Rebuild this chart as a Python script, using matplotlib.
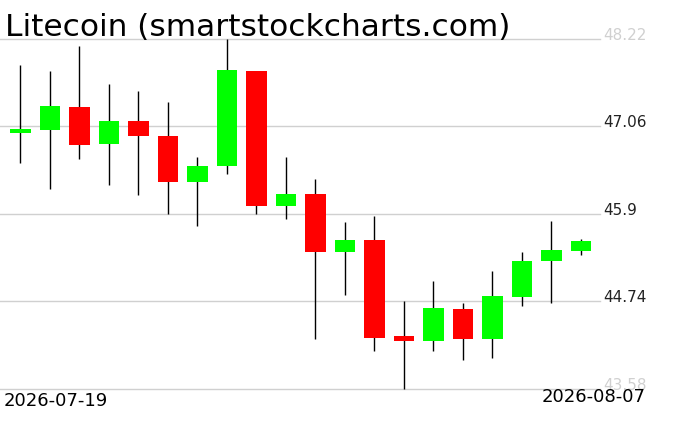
import matplotlib
matplotlib.use("Agg")
import matplotlib.pyplot as plt
import numpy as np

# daily OHLC
dates = ["2026-07-19", "2026-07-20", "2026-07-21", "2026-07-22", "2026-07-23",
         "2026-07-24", "2026-07-25", "2026-07-26", "2026-07-27", "2026-07-28",
         "2026-07-29", "2026-07-30", "2026-07-31", "2026-08-01", "2026-08-02",
         "2026-08-03", "2026-08-04", "2026-08-05", "2026-08-06", "2026-08-07"]
opens = [46.98, 47.02, 47.32, 46.83, 47.13, 46.94, 46.33, 46.53, 47.80, 46.01,
         46.17, 45.40, 45.56, 44.28, 44.21, 44.64, 44.24, 44.80, 45.28, 45.41]
highs = [47.87, 47.80, 48.13, 47.62, 47.53, 47.39, 46.66, 48.22, 47.80, 46.66,
         46.36, 45.80, 45.87, 44.74, 45.01, 44.72, 45.14, 45.40, 45.81, 45.57]
lows = [46.57, 46.23, 46.63, 46.28, 46.15, 45.90, 45.74, 46.43, 45.90, 45.83,
        44.24, 44.82, 44.09, 43.58, 44.08, 43.96, 43.99, 44.68, 44.72, 45.35]
closes = [47.03, 47.33, 46.82, 47.13, 46.93, 46.33, 46.54, 47.81, 46.01, 46.17,
          45.39, 45.56, 44.26, 44.21, 44.65, 44.24, 44.81, 45.28, 45.42, 45.54]
ticks = [43.58, 44.74, 45.9, 47.06, 48.22]

fig = plt.figure(figsize=(6.76, 4.31), dpi=100)
ax = fig.add_axes([0, 41 / 431, 600 / 676, 350 / 431])

x = np.arange(len(dates))
for i in x:
    o, h, l, c = opens[i], highs[i], lows[i], closes[i]
    col = "#00ff00" if c >= o else "#ff0000"
    ax.vlines(i, l, h, color="black", lw=1, zorder=2, clip_on=False)
    ax.bar(i, abs(c - o), bottom=min(o, c), width=0.7, color=col, zorder=3)

for t in ticks:
    ax.axhline(t, color="#d0d0d0", lw=1, zorder=1, clip_on=False)
    tc = "#d0d0d0" if t in (ticks[0], ticks[-1]) else "#222222"
    ax.text(1.005, t, str(t), transform=ax.get_yaxis_transform(),
            ha="left", va="baseline", fontsize=11, color=tc)

ax.set_xlim(-0.69, 19.65)
ax.set_ylim(43.58, 48.22)
ax.axis("off")

fig.text(5 / 676, 1 - 28 / 431, "Litecoin (smartstockcharts.com)",
         fontsize=22.5, va="center", ha="left", color="black")
fig.text(4 / 676, 1 - 401 / 431, dates[0], fontsize=13, va="center", ha="left")
fig.text(646 / 676, 1 - 397 / 431, dates[-1], fontsize=13, va="center", ha="right")

fig.savefig("out.png", dpi=100)
